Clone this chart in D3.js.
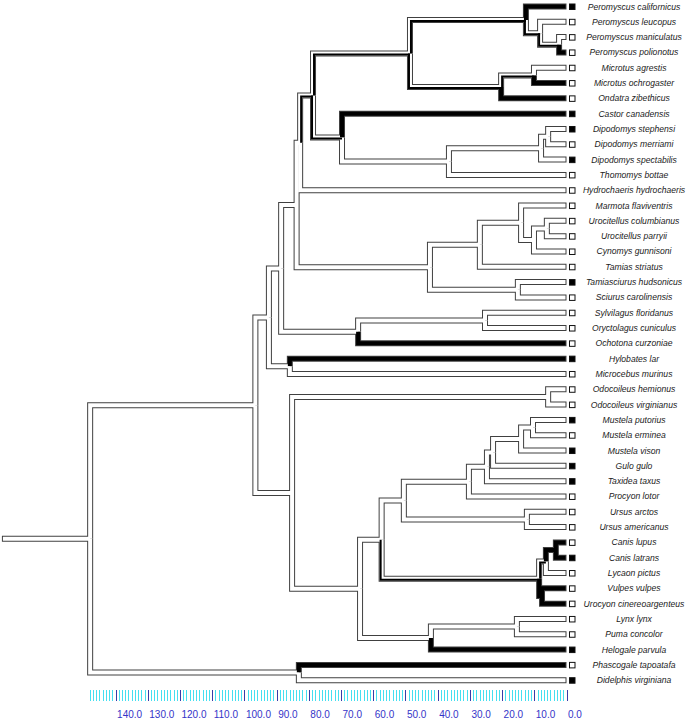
<!DOCTYPE html>
<html><head><meta charset="utf-8">
<script src="https://cdn.jsdelivr.net/npm/d3@7/dist/d3.min.js"></script>
<style>body{margin:0;background:#fff}svg{display:block}</style>
</head><body>
<svg id="chart" width="688" height="723"></svg>
<script>
// ---- tips (top to bottom) ----
const taxa = [
  "Peromyscus californicus","Peromyscus leucopus","Peromyscus maniculatus","Peromyscus polionotus",
  "Microtus agrestis","Microtus ochrogaster","Ondatra zibethicus","Castor canadensis",
  "Dipodomys stephensi","Dipodomys merriami","Dipodomys spectabilis","Thomomys bottae",
  "Hydrochaeris hydrochaeris","Marmota flaviventris","Urocitellus columbianus","Urocitellus parryii",
  "Cynomys gunnisoni","Tamias striatus","Tamiasciurus hudsonicus","Sciurus carolinensis",
  "Sylvilagus floridanus","Oryctolagus cuniculus","Ochotona curzoniae","Hylobates lar",
  "Microcebus murinus","Odocoileus hemionus","Odocoileus virginianus","Mustela putorius",
  "Mustela erminea","Mustela vison","Gulo gulo","Taxidea taxus","Procyon lotor",
  "Ursus arctos","Ursus americanus","Canis lupus","Canis latrans","Lycaon pictus",
  "Vulpes vulpes","Urocyon cinereoargenteus","Lynx lynx","Puma concolor","Helogale parvula",
  "Phascogale tapoatafa","Didelphis virginiana"
];
// observed state shown by the tip square (1 = black)
const tipObserved = [1,0,0,0, 0,0,0,1, 1,0,1,0, 0,0,0,0, 0,0,1,0, 0,0,0,1, 0,0,0,1, 0,1,1,1,0, 0,0,0,1,0, 0,0,0,0,1, 0,1];
// reconstructed state of terminal branch (0 white, 1 black, 2 equivocal)
const tipBranch   = [1,0,0,1, 0,1,1,1, 0,0,0,0, 0,0,0,0, 0,0,0,0, 0,0,1,1, 0,0,0,0, 0,0,0,0,0, 0,0,1,1,0, 1,1,0,0,1, 1,0];

// ---- internal nodes ----
const cladeNames = ["Root","Boreoeutheria","Euarchontoglires","Glires","Rodentia","Rodentia2","Rodentia3",
  "Muroidea","Peromyscus","PeroA","PeroB","Arvicolinae","Microtus","Castorimorpha","Geomyoidea",
  "Dipodomys","DipoA","Sciuridae","Xerinae","Marmotini","UroCyn","Urocitellus","Sciurini",
  "Lagomorpha","Leporidae","Primates","Laurasiatheria","Odocoileus","Carnivora","Caniformia",
  "Arctoidea","Musteloidea","Mustelidae","Guloninae","Mustela","MustelaA","Ursus","Canidae",
  "Canini","Canis","Vulpini","Feliformia","Felidae","Marsupialia"];
const cladeAges = [147.9,96.6,92.4,88.6,83.8,82.7,78.7,
  48.6,12.6,8.2,2.3,20.3,10.1,69.7,36.5,
  7.9,5.7,42.4,26.9,14.1,10.1,6.1,15.1,
  64.7,25.3,85.9,85.2,5.7,64.1,57.4,
  50.5,30.3,24.7,22.8,14.1,10.4,12.3,8.5,
  6.4,3.3,7.6,42.1,15.4,83.1];
const cladeKids = [
  ["Boreoeutheria","Marsupialia"],["Euarchontoglires","Laurasiatheria"],["Glires","Primates"],
  ["Rodentia","Lagomorpha"],["Rodentia2","Sciuridae"],["Rodentia3","Hydrochaeris hydrochaeris"],
  ["Muroidea","Castorimorpha"],["Peromyscus","Arvicolinae"],["Peromyscus californicus","PeroA"],
  ["Peromyscus leucopus","PeroB"],["Peromyscus maniculatus","Peromyscus polionotus"],
  ["Microtus","Ondatra zibethicus"],["Microtus agrestis","Microtus ochrogaster"],
  ["Castor canadensis","Geomyoidea"],["Dipodomys","Thomomys bottae"],["DipoA","Dipodomys spectabilis"],
  ["Dipodomys stephensi","Dipodomys merriami"],["Xerinae","Sciurini"],["Marmotini","Tamias striatus"],
  ["Marmota flaviventris","UroCyn"],["Urocitellus","Cynomys gunnisoni"],
  ["Urocitellus columbianus","Urocitellus parryii"],["Tamiasciurus hudsonicus","Sciurus carolinensis"],
  ["Leporidae","Ochotona curzoniae"],["Sylvilagus floridanus","Oryctolagus cuniculus"],
  ["Hylobates lar","Microcebus murinus"],["Odocoileus","Carnivora"],
  ["Odocoileus hemionus","Odocoileus virginianus"],["Caniformia","Feliformia"],["Arctoidea","Canidae"],
  ["Musteloidea","Ursus"],["Mustelidae","Procyon lotor"],["Guloninae","Taxidea taxus"],
  ["Mustela","Gulo gulo"],["MustelaA","Mustela vison"],["Mustela putorius","Mustela erminea"],
  ["Ursus arctos","Ursus americanus"],["Canini","Vulpini"],["Canis","Lycaon pictus"],
  ["Canis lupus","Canis latrans"],["Vulpes vulpes","Urocyon cinereoargenteus"],
  ["Felidae","Helogale parvula"],["Lynx lynx","Puma concolor"],
  ["Phascogale tapoatafa","Didelphis virginiana"]];
const cladeBranch = [0,0,0,0,0,0,2,
  2,2,2,2,2,2,2,0,
  0,0,0,0,0,0,0,0,
  0,0,0,0,0,0,0,
  0,0,0,0,0,0,0,2,
  2,1,1,0,0,0];

// ---- time scale ----
const tickLabels = [140,130,120,110,100,90,80,70,60,50,40,30,20,10,0];
const scaleMaxAge = 148;
const rootStubAge = 175.3;

// ---------------------------------------------------------------
const svg = d3.select("#chart");
svg.append("rect").attr("width",688).attr("height",723).attr("fill","#fff");

const nodes = new Map();
taxa.forEach((t,i)=>nodes.set(t,{name:t,age:0,state:tipBranch[i],obs:tipObserved[i]}));
cladeNames.forEach((c,i)=>nodes.set(c,{name:c,age:cladeAges[i],state:cladeBranch[i],kids:cladeKids[i]}));
nodes.forEach(n=>{ if(n.kids) n.children = n.kids.map(k=>nodes.get(k)); });

const root = d3.hierarchy(nodes.get("Root"), d=>d.children);
const y = d3.scalePoint().domain(taxa).range([6.5, 680.2]);
const x = d3.scaleLinear().domain([140,0]).range([115.6,566.5]);

root.eachAfter(d=>{
  d.px = x(d.data.age);
  d.py = d.children ? (d.children[0].py + d.children[d.children.length-1].py)/2 : y(d.data.name);
});

const line = d3.line();
function pts(d, inset, off){
  const p = d.parent, px = p.px, py = p.py, cy = d.py;
  const cx = d.px - (d.children ? 0 : inset);
  if(!off) return [[px,py],[px,cy],[cx,cy]];
  const sx = cy < py ? px+off : px-off;
  return [[sx,py],[sx,cy+off],[cx,cy+off]];
}
const branches = root.descendants().filter(d=>d.parent);
const stub = [[x(rootStubAge), root.py],[root.px, root.py]];

const gOut = svg.append("g").attr("fill","none").attr("stroke","#404040").attr("stroke-width",6)
  .attr("stroke-linejoin","miter").attr("stroke-linecap","butt");
gOut.append("path").attr("d",line(stub));
gOut.selectAll("path.b").data(branches).join("path").attr("class","b").attr("d",d=>line(pts(d,0,0)));

const gFill = svg.append("g").attr("fill","none").attr("stroke-width",4)
  .attr("stroke-linejoin","miter").attr("stroke-linecap","butt");
gFill.append("path").attr("d",line([[x(rootStubAge)+1,root.py],[root.px,root.py]])).attr("stroke","#fff");
gFill.selectAll("path.b").data(branches).join("path").attr("class","b")
  .attr("d",d=>line(pts(d,1,0)))
  .attr("stroke",d=>d.data.state===1?"#000":"#fff");

const gStripe = svg.append("g").attr("fill","none").attr("stroke","#000").attr("stroke-width",2)
  .attr("stroke-linejoin","miter").attr("stroke-linecap","butt");
gStripe.selectAll("path").data(branches.filter(d=>d.data.state===2)).join("path")
  .attr("d",d=>line(pts(d,1,1)));

// tip squares and names
const leaves = root.leaves();
svg.append("g").selectAll("rect").data(leaves).join("rect")
  .attr("x",569.5).attr("y",d=>d.py-2.5).attr("width",5.5).attr("height",5.5)
  .attr("fill",d=>d.data.obs?"#000":"#fff").attr("stroke","#111").attr("stroke-width",1);
svg.append("g").selectAll("text").data(leaves).join("text")
  .attr("x",634).attr("y",d=>d.py+3)
  .attr("text-anchor","middle")
  .attr("font-family","Liberation Sans, Arial, sans-serif")
  .attr("font-style","italic").attr("font-size","8.6px").attr("fill","#222")
  .text(d=>d.data.name);

// time scale bar
const ticks = d3.range(0, scaleMaxAge+1);
svg.append("g").selectAll("line").data(ticks).join("line")
  .attr("x1",d=>Math.round(x(d))+0.5).attr("x2",d=>Math.round(x(d))+0.5)
  .attr("y1",690).attr("y2",701)
  .attr("stroke",d=>d%10===0?"#3a3aa8":"#45dff0").attr("stroke-width",1);
svg.append("g").selectAll("text").data(tickLabels).join("text")
  .attr("x",d=>x(d)+1.5).attr("y",718)
  .attr("font-family","Liberation Sans, Arial, sans-serif")
  .attr("font-size","10px").attr("fill","#3434c8")
  .text(d=>d.toFixed(1));
</script>
</body></html>
